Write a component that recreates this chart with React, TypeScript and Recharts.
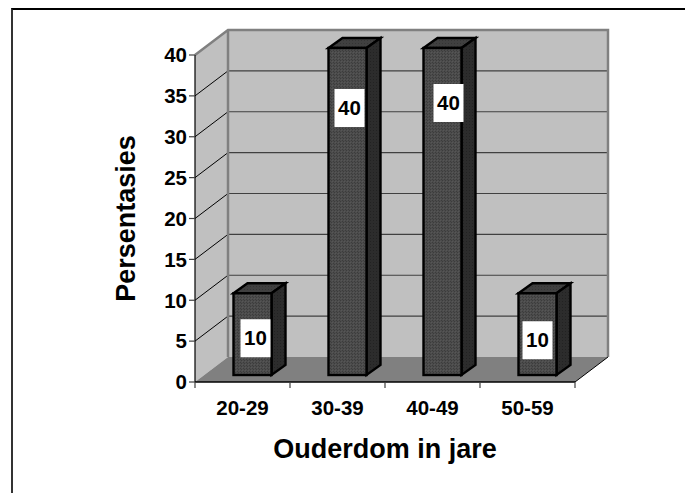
import React from "react";
import { BarChart, Bar, XAxis, YAxis, ReferenceArea, LabelList } from "recharts";

const categories = ["20-29", "30-39", "40-49", "50-59"];
const percentages = [10, 40, 40, 10];
const yTicks = [0, 5, 10, 15, 20, 25, 30, 35, 40];
const xTitle = "Ouderdom in jare";
const yTitle = "Persentasies";

const rows = categories.map((c, i) => ({ category: c, value: percentages[i] }));

// styling of the pseudo-3D look
const FONT = "'Liberation Sans', Arial, sans-serif";
const WALL_DX = 33;
const WALL_DY = 25;
const BAR_DEPTH_X = 14;
const BAR_DEPTH_Y = 10;
const BAR_SHIFT_X = 9.5;
const BAR_SHIFT_Y = 7;
const labelNudgeX = [3, 2, 6, 0];
const labelNudgeY = [45, 60, 55, 47];

function Room(props: any) {
  const { x, y, width, height } = props;
  const b = y + height;
  const r = x + width;
  const step = height / (yTicks.length - 1);
  return (
    <g>
      <defs>
        <pattern id="frontFill" width="3" height="3" patternUnits="userSpaceOnUse">
          <rect width="3" height="3" fill="#4c4c4c" />
          <rect x="1" y="0" width="1" height="1" fill="#3c3c3c" />
          <rect x="0" y="2" width="1" height="1" fill="#3c3c3c" />
          <rect x="2" y="1" width="1" height="1" fill="#565656" />
        </pattern>
        <pattern id="topFill" width="3" height="3" patternUnits="userSpaceOnUse">
          <rect width="3" height="3" fill="#404040" />
          <rect x="1" y="1" width="1" height="1" fill="#343434" />
        </pattern>
        <pattern id="sideFill" width="3" height="3" patternUnits="userSpaceOnUse">
          <rect width="3" height="3" fill="#2c2c2c" />
          <rect x="1" y="1" width="1" height="1" fill="#222222" />
        </pattern>
      </defs>
      <polygon
        points={`${x},${y} ${x + WALL_DX},${y - WALL_DY} ${x + WALL_DX},${b - WALL_DY} ${x},${b}`}
        fill="#c0c0c0"
      />
      <polygon points={`${x},${b} ${x + WALL_DX},${b - WALL_DY} ${r + WALL_DX},${b - WALL_DY} ${r},${b}`} fill="#808080" />
      <rect x={x + WALL_DX} y={y - WALL_DY} width={width} height={height} fill="#c0c0c0" />
      {yTicks.slice(1, -1).map((t, i) => {
        const gy = b - step * (i + 1);
        return (
          <g key={t}>
            <line x1={x} y1={gy} x2={x + WALL_DX} y2={gy - WALL_DY} stroke="#000" strokeWidth={1} />
            <line x1={x + WALL_DX} y1={gy - WALL_DY} x2={r + WALL_DX} y2={gy - WALL_DY} stroke="#404040" strokeWidth={1.2} />
          </g>
        );
      })}
      <polyline
        points={`${x},${y} ${x + WALL_DX},${y - WALL_DY} ${r + WALL_DX},${y - WALL_DY} ${r + WALL_DX},${b - WALL_DY}`}
        fill="none"
        stroke="#808080"
        strokeWidth={2.5}
      />
      <line x1={x + WALL_DX} y1={y - WALL_DY} x2={x + WALL_DX} y2={b - WALL_DY} stroke="#808080" strokeWidth={2.5} />
      <line x1={r} y1={b} x2={r + WALL_DX} y2={b - WALL_DY} stroke="#000" strokeWidth={1} />
      <line x1={x} y1={y} x2={x} y2={b} stroke="#000" strokeWidth={1.2} />
      <line x1={x} y1={b} x2={r} y2={b} stroke="#000" strokeWidth={1.5} />
      {categories.concat("").map((_, i) => (
        <line key={i} x1={x + (width / categories.length) * i} y1={b} x2={x + (width / categories.length) * i} y2={b + 6} stroke="#404040" strokeWidth={1.2} />
      ))}
    </g>
  );
}

function Box3D(props: any) {
  const { x, y, width, height } = props;
  const l = x + BAR_SHIFT_X;
  const t = y - BAR_SHIFT_Y;
  const r = l + width;
  const b = t + height;
  const dx = BAR_DEPTH_X;
  const dy = BAR_DEPTH_Y;
  return (
    <g stroke="#000" strokeWidth={2.4} strokeLinejoin="miter">
      <polygon points={`${l},${t} ${l + dx},${t - dy} ${r + dx},${t - dy} ${r},${t}`} fill="url(#topFill)" />
      <polygon points={`${r},${t} ${r + dx},${t - dy} ${r + dx},${b - dy} ${r},${b}`} fill="url(#sideFill)" />
      <rect x={l} y={t} width={width} height={height} fill="url(#frontFill)" />
    </g>
  );
}

function ValueTag(props: any) {
  const { x, y, width, value, index } = props;
  const cx = x + BAR_SHIFT_X + width / 2 + labelNudgeX[index];
  const cy = y - BAR_SHIFT_Y + labelNudgeY[index];
  return (
    <g>
      <rect x={cx - 15} y={cy - 19} width={30} height={38} fill="#fff" />
      <text x={cx} y={cy + 7} textAnchor="middle" fontFamily={FONT} fontWeight="bold" fontSize={20.5} fill="#000">
        {value}
      </text>
    </g>
  );
}

export default function App() {
  return (
    <div style={{ position: "absolute", left: 0, top: 0, width: 685, height: 493, background: "#fff", overflow: "hidden" }}>
      <div style={{ position: "absolute", left: 11, top: 8, right: 0, bottom: 0, borderLeft: "2px solid #333", borderTop: "2px solid #000" }} />
      <div style={{ position: "absolute", left: 0, top: 0 }}>
        <BarChart
          width={685}
          height={493}
          data={rows}
          margin={{ top: 55, right: 110, bottom: 0, left: 115 }}
          barSize={38}
        >
          <XAxis
            dataKey="category"
            tickLine={false}
            axisLine={false}
            interval={0}
            tick={{ fontFamily: FONT, fontWeight: "bold", fontSize: 20.5, fill: "#000" }}
            tickMargin={12}
            height={111}
            label={{ value: xTitle, position: "insideBottom", offset: 35, fontFamily: FONT, fontWeight: "bold", fontSize: 27, fill: "#000" }}
          />
          <YAxis
            domain={[0, 40]}
            ticks={yTicks}
            width={80}
            interval={0}
            axisLine={false}
            tickLine={{ stroke: "#404040", strokeWidth: 1.2 }}
            tickSize={6}
            tick={{ fontFamily: FONT, fontWeight: "bold", fontSize: 20.5, fill: "#000" }}
            label={{ value: yTitle, angle: -90, position: "center", dx: -30, fontFamily: FONT, fontWeight: "bold", fontSize: 27, fill: "#000" }}
          />
          <ReferenceArea y1={0} y2={40} ifOverflow="visible" shape={<Room />} />
          <Bar dataKey="value" shape={<Box3D />} isAnimationActive={false}>
            <LabelList dataKey="value" content={<ValueTag />} />
          </Bar>
        </BarChart>
      </div>
    </div>
  );
}
